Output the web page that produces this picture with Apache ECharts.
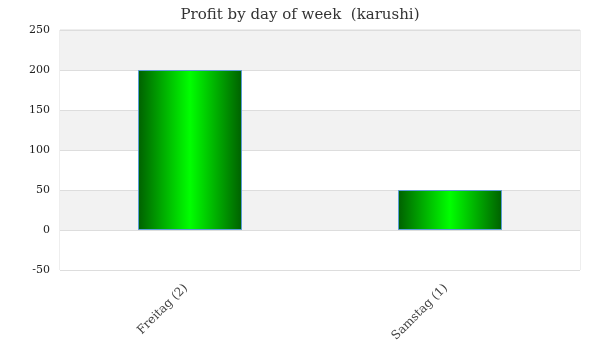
<!DOCTYPE html>
<html><head><meta charset="utf-8">
<script src="https://cdn.jsdelivr.net/npm/echarts@6/dist/echarts.min.js"></script>
<style>html,body{margin:0;padding:0;background:#fff}#c{width:600px;height:360px}</style>
</head><body><div id="c"></div>
<script>
var categories = ["Freitag (2)", "Samstag (1)"];
var profit = [200, 50];
var titleText = "Profit by day of week  (karushi)";

var font = "'DejaVu Serif', 'Liberation Serif', serif";
var chart = echarts.init(document.getElementById('c'));
var grad = new echarts.graphic.LinearGradient(0, 0, 1, 0, [
  {offset: 0, color: '#006000'},
  {offset: 0.5, color: '#00ff00'},
  {offset: 1, color: '#006000'}
]);
chart.setOption({
  animation: false,
  title: {text: titleText, left: 'center', top: 3,
    textStyle: {fontFamily: font, fontSize: 15, fontWeight: 'normal', color: '#333'}},
  grid: {left: 60, right: 20, top: 30, bottom: 90, show: true, borderColor: '#dddddd', borderWidth: 1},
  xAxis: {type: 'category', data: categories,
    axisLine: {show: false}, axisTick: {show: false},
    axisLabel: {rotate: 45, margin: 12, fontFamily: font, fontSize: 12, color: '#444', padding: [0, 6, 0, 0]}},
  yAxis: {type: 'value', min: -50, max: 250, interval: 50,
    axisLine: {show: false}, axisTick: {show: false},
    axisLabel: {fontFamily: font, fontSize: 11, color: '#222', margin: 10},
    splitLine: {lineStyle: {color: '#dddddd'}},
    splitArea: {show: true, areaStyle: {color: ['#ffffff', '#f2f2f2']}}},
  series: [{type: 'bar', data: profit, barWidth: '40%',
    itemStyle: {color: grad, borderColor: '#5b9bd5', borderWidth: 1}}]
});
</script></body></html>
